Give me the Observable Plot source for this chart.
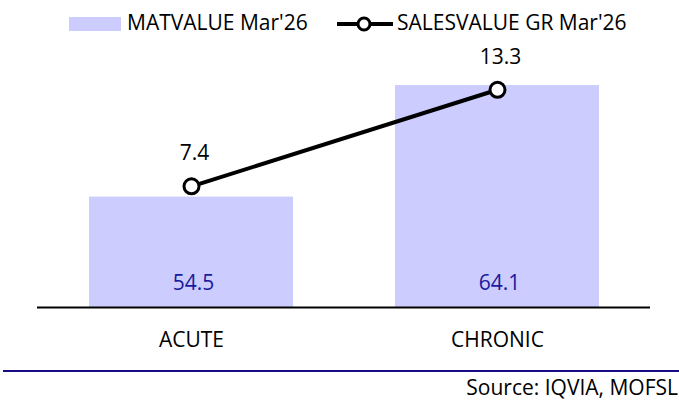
<!DOCTYPE html>
<html>
<head>
<meta charset="utf-8">
<script src="https://cdn.jsdelivr.net/npm/d3@7"></script>
<script src="https://cdn.jsdelivr.net/npm/@observablehq/plot@0.6"></script>
<style>
  html, body { margin: 0; padding: 0; background: #fff; }
  #wrap { position: relative; width: 679px; height: 403px; overflow: hidden; font-family: "Open Sans", sans-serif; color: #000; }
  #legend { position: absolute; left: 0; top: 0; width: 679px; height: 40px; }
  .lg { position: absolute; font-size: 21px; line-height: 21px; white-space: nowrap; }
  #chart { position: absolute; left: 0; top: 40px; }
  #sep { position: absolute; left: 3px; top: 370px; width: 676px; height: 2px; background: #170b86; }
  #source { position: absolute; right: 1px; top: 377px; font-size: 21px; line-height: 21px; white-space: nowrap; }
</style>
</head>
<body>
<div id="wrap">
  <div id="legend"></div>
  <div id="chart"></div>
  <div id="sep"></div>
  <div id="source"></div>
</div>
<script>
const categories = ["ACUTE", "CHRONIC"];
const matValues = [54.5, 64.1];
const growthValues = [7.4, 13.3];
const seriesNames = ["MATVALUE Mar'26", "SALESVALUE GR Mar'26"];
const sourceText = "Source: IQVIA, MOFSL";

// primary (bar) axis starts at 45; secondary (growth) axis starts at 0
const yMin = 45, yMax = 66;
const secondaryRatio = 1.409; // units of primary per unit of secondary
const barColor = "#CCCCFF";

const data = categories.map((c, i) => ({
  cat: c,
  mat: matValues[i],
  gr: growthValues[i],
  gy: yMin + growthValues[i] * secondaryRatio
}));

const chart = Plot.plot({
  width: 679,
  height: 320,
  marginLeft: 37,
  marginRight: 29,
  marginTop: 23,
  marginBottom: 53,
  style: { fontFamily: "Open Sans", fontSize: "21px", color: "#000", background: "transparent", overflow: "visible" },
  x: { domain: categories, paddingInner: 0.334, paddingOuter: 0.167, label: null, tickSize: 0, tickPadding: 25 },
  y: { domain: [yMin, yMax], axis: null },
  marks: [
    Plot.barY(data, { x: "cat", y1: d => yMin, y2: "mat", fill: barColor }),
    Plot.ruleY([yMin], { stroke: "#000", strokeWidth: 2 }),
    Plot.text(data, { x: "cat", y: d => yMin, text: d => d.mat.toFixed(1), dy: -18, dx: 2, lineAnchor: "bottom", fill: "#1a1a9c" }),
    Plot.line(data, { x: "cat", y: "gy", stroke: "#000", strokeWidth: 4 }),
    Plot.dot(data, { x: "cat", y: "gy", r: 7.5, fill: "#fff", stroke: "#000", strokeWidth: 3 }),
    Plot.text(data, { x: "cat", y: "gy", text: d => d.gr.toFixed(1), dy: -26, dx: 3, lineAnchor: "bottom", fill: "#000" })
  ]
});
document.getElementById("chart").appendChild(chart);

// legend
const legend = document.getElementById("legend");
const sw = document.createElement("div");
sw.style.cssText = `position:absolute;left:69px;top:17px;width:52px;height:14px;background:${barColor};`;
legend.appendChild(sw);
const t1 = document.createElement("div");
t1.className = "lg"; t1.style.left = "127px"; t1.style.top = "12px"; t1.textContent = seriesNames[0];
legend.appendChild(t1);
const ns = "http://www.w3.org/2000/svg";
const ls = document.createElementNS(ns, "svg");
ls.setAttribute("width", 60); ls.setAttribute("height", 20);
ls.style.cssText = "position:absolute;left:335px;top:14px;overflow:visible";
const ln = document.createElementNS(ns, "line");
ln.setAttribute("x1", 2); ln.setAttribute("x2", 58); ln.setAttribute("y1", 10); ln.setAttribute("y2", 10);
ln.setAttribute("stroke", "#000"); ln.setAttribute("stroke-width", 4);
ls.appendChild(ln);
const cc = document.createElementNS(ns, "circle");
cc.setAttribute("cx", 29); cc.setAttribute("cy", 10); cc.setAttribute("r", 6);
cc.setAttribute("fill", "#fff"); cc.setAttribute("stroke", "#000"); cc.setAttribute("stroke-width", 3);
ls.appendChild(cc);
legend.appendChild(ls);
const t2 = document.createElement("div");
t2.className = "lg"; t2.style.left = "397px"; t2.style.top = "12px"; t2.textContent = seriesNames[1];
legend.appendChild(t2);

document.getElementById("source").textContent = sourceText;
</script>
</body>
</html>
